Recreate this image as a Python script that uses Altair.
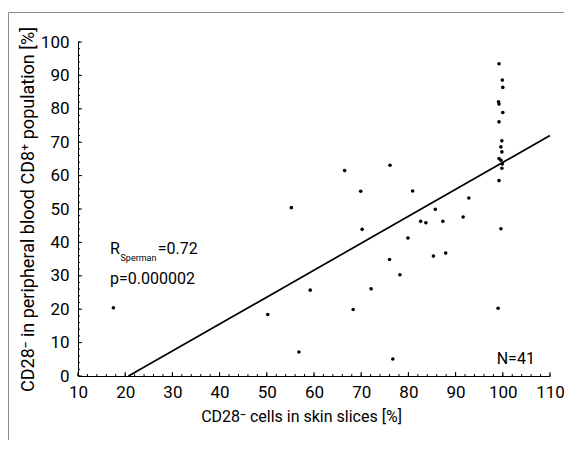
import altair as alt
import pandas as pd

# Data
pt_x = [17.5, 50.2, 55.2, 56.8, 59.2, 66.5, 68.3, 69.9, 70.2, 72.1, 76.1, 76.0,
        76.7, 78.2, 79.9, 80.9, 82.6, 83.7, 85.3, 85.7, 87.3, 87.9, 91.6, 92.8,
        99.2, 99.9, 100.0, 99.1, 99.2, 100.0, 99.2, 99.8, 99.6, 99.8, 99.2,
        99.6, 99.9, 99.8, 99.2, 99.6, 99.0]
pt_y = [20.4, 18.4, 50.4, 7.2, 25.7, 61.5, 19.9, 55.3, 43.9, 26.1, 63.1, 34.9,
        5.1, 30.3, 41.3, 55.4, 46.3, 45.9, 35.9, 49.9, 46.3, 36.8, 47.6, 53.3,
        93.5, 88.6, 86.4, 82.1, 81.4, 78.9, 76.1, 70.4, 68.6, 67.1, 65.1,
        64.6, 63.5, 62.2, 58.5, 44.1, 20.3]

fit_x = [20.7, 110.0]
fit_y = [0.0, 72.0]

x_major = [10, 20, 30, 40, 50, 60, 70, 80, 90, 100, 110]
x_minor = list(range(10, 111, 2))
y_major = [0, 10, 20, 30, 40, 50, 60, 70, 80, 90, 100]
y_minor = list(range(0, 101, 2))

x_title = "CD28\u207b cells in skin slices [%]"
y_title = "CD28\u207b in peripheral blood CD8\u207a population [%]"

W, H = 472, 334
FONT = "Roboto"

xs = alt.Scale(domain=[10, 110], nice=False, zero=False)
ys = alt.Scale(domain=[0, 100], nice=False, zero=False)

x_axis = alt.Axis(values=x_major, title=x_title, grid=False, ticks=False,
                  labelFont=FONT, labelFontSize=17, labelColor="black",
                  labelPadding=8, labelFlush=False, domainColor="black",
                  titleFont=FONT, titleFontSize=16, titleFontWeight="normal",
                  titleColor="black", titlePadding=8, titleX=223)
y_axis = alt.Axis(values=y_major, title=y_title, grid=False, ticks=False,
                  labelFont=FONT, labelFontSize=17, labelColor="black",
                  labelPadding=9, labelFlush=False, domainColor="black",
                  titleFont=FONT, titleFontSize=18, titleFontWeight="normal",
                  titleColor="black", titlePadding=3)

X = lambda f: alt.X(f, type="quantitative", scale=xs, axis=x_axis)
Y = lambda f: alt.Y(f, type="quantitative", scale=ys, axis=y_axis)

pts = pd.DataFrame({"x": pt_x, "y": pt_y})
fit = pd.DataFrame({"x": fit_x, "y": fit_y})

points = alt.Chart(pts).mark_circle(size=13, color="black", opacity=1).encode(
    x=X("x"), y=Y("y"))
line = alt.Chart(fit).mark_line(color="black", strokeWidth=1.7).encode(
    x=X("x"), y=Y("y"))

xmin_t = alt.Chart(pd.DataFrame({"x": x_minor})).mark_rule(color="black", strokeWidth=1).encode(
    x=X("x"), y=alt.value(H), y2=alt.value(H - 2))
xmaj_t = alt.Chart(pd.DataFrame({"x": x_major})).mark_rule(color="black", strokeWidth=1).encode(
    x=X("x"), y=alt.value(H), y2=alt.value(H - 4))
ymin_t = alt.Chart(pd.DataFrame({"y": y_minor})).mark_rule(color="black", strokeWidth=1).encode(
    y=Y("y"), x=alt.value(0), x2=alt.value(2))
ymaj_t = alt.Chart(pd.DataFrame({"y": y_major})).mark_rule(color="black", strokeWidth=1).encode(
    y=Y("y"), x=alt.value(0), x2=alt.value(4))

one = pd.DataFrame({"a": [0]})
frame_top = alt.Chart(one).mark_rule(color="#8a8a8a", strokeWidth=1).encode(
    x=alt.value(-69.5), x2=alt.value(W + 14), y=alt.value(-29.5))
frame_left = alt.Chart(one).mark_rule(color="#8a8a8a", strokeWidth=1).encode(
    x=alt.value(-69.5), y=alt.value(-29.5), y2=alt.value(H + 66))

ann_left = pd.DataFrame({"x": [16.8, 26.9, 16.8], "y": [36.5, 36.5, 27.5],
                         "t": ["R", "=0.72", "p=0.000002"]})
ann_sub = pd.DataFrame({"x": [19.0], "y": [34.5], "t": ["Sperman"]})
ann_n = pd.DataFrame({"x": [106.8], "y": [3.6], "t": ["N=41"]})

txt_left = alt.Chart(ann_left).mark_text(align="left", baseline="alphabetic", font=FONT,
                                         fontSize=16, color="black").encode(
    x=X("x"), y=Y("y"), text="t:N")
txt_sub = alt.Chart(ann_sub).mark_text(align="left", baseline="alphabetic", font=FONT,
                                       fontSize=9, color="black").encode(
    x=X("x"), y=Y("y"), text="t:N")
txt_n = alt.Chart(ann_n).mark_text(align="right", baseline="alphabetic", font=FONT,
                                   fontSize=16, color="black").encode(
    x=X("x"), y=Y("y"), text="t:N")

chart = alt.layer(frame_top, frame_left, xmin_t, xmaj_t, ymin_t, ymaj_t,
                  line, points, txt_left, txt_sub, txt_n).properties(
    width=W, height=H,
    autosize=alt.AutoSizeParams(type="none"),
    padding={"left": 70, "top": 34, "right": 14, "bottom": 64},
    background="white",
).configure_view(stroke=None)

chart.save("out.html", embed_options={"renderer": "svg", "actions": False})
